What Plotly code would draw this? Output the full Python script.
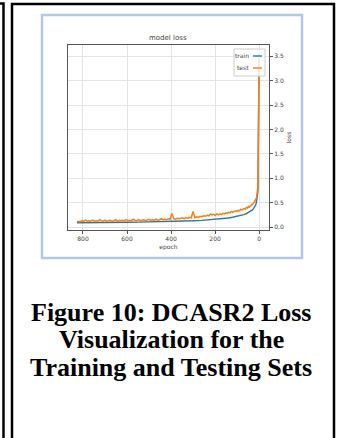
import plotly.graph_objects as go

# ---- data ----
train_epochs = [0, 1, 2, 3, 4, 5, 6, 8, 10, 13, 16, 20, 25, 30, 40, 50, 60, 70, 85, 100,
                120, 140, 160, 180, 200, 230, 260, 300, 350, 400, 450, 500, 550, 600, 650,
                700, 750, 800, 827]
train_loss = [3.55, 2.35, 1.62, 1.20, 0.95, 0.80, 0.70, 0.60, 0.54, 0.49, 0.45, 0.41, 0.38,
              0.35, 0.32, 0.29, 0.27, 0.255, 0.235, 0.22, 0.20, 0.185, 0.175, 0.165, 0.155,
              0.145, 0.137, 0.128, 0.12, 0.113, 0.108, 0.104, 0.10, 0.097, 0.094, 0.092,
              0.09, 0.088, 0.087]

test_epochs = [0, 1, 2, 3, 4, 5, 6, 7, 8, 10,
               12, 14, 16, 19, 22, 25, 28, 32, 36, 40,
               44, 48, 53, 58, 63, 68, 73, 78, 84, 90,
               96, 102, 108, 114, 120, 126, 132, 138, 144, 150,
               157, 164, 171, 178, 185, 192, 199, 206, 213, 220,
               228, 236, 244, 252, 260, 268, 276, 284, 292, 300,
               308, 316, 324, 332, 340, 348, 356, 364, 372, 380,
               388, 396, 404, 412, 420, 428, 436, 444, 452, 460,
               468, 476, 484, 492, 500, 508, 516, 524, 532, 540,
               548, 556, 564, 572, 580, 588, 596, 604, 612, 620,
               628, 636, 644, 652, 660, 668, 676, 684, 692, 700,
               708, 716, 724, 732, 740, 748, 756, 764, 772, 780,
               788, 796, 804, 812, 820, 827]
test_loss = [3.52, 2.45, 1.75, 1.30, 1.05, 0.90, 0.80, 0.74, 0.69, 0.63,
             0.60, 0.58, 0.55, 0.53, 0.51, 0.49, 0.47, 0.46, 0.44, 0.43,
             0.41, 0.42, 0.39, 0.40, 0.37, 0.38, 0.36, 0.35, 0.36, 0.33,
             0.34, 0.32, 0.33, 0.31, 0.30, 0.32, 0.29, 0.30, 0.28, 0.29,
             0.27, 0.28, 0.26, 0.27, 0.25, 0.27, 0.24, 0.26, 0.25, 0.27,
             0.23, 0.24, 0.22, 0.23, 0.21, 0.22, 0.20, 0.21, 0.19, 0.32,
             0.19, 0.20, 0.18, 0.19, 0.17, 0.19, 0.18, 0.17, 0.18, 0.16,
             0.17, 0.28, 0.16, 0.17, 0.15, 0.16, 0.15, 0.17, 0.15, 0.14,
             0.16, 0.14, 0.15, 0.14, 0.16, 0.14, 0.13, 0.15, 0.14, 0.13,
             0.15, 0.13, 0.14, 0.16, 0.13, 0.14, 0.13, 0.15, 0.13, 0.14,
             0.13, 0.14, 0.12, 0.15, 0.13, 0.12, 0.14, 0.13, 0.12, 0.14,
             0.12, 0.13, 0.15, 0.12, 0.13, 0.12, 0.14, 0.12, 0.13, 0.12,
             0.14, 0.12, 0.13, 0.11, 0.12, 0.11]

x_ticks = [0, 200, 400, 600, 800]
y_ticks = [0.0, 0.5, 1.0, 1.5, 2.0, 2.5, 3.0, 3.5]
series_names = ["train", "test"]
series_colors = ["#1f77b4", "#ff7f0e"]
caption_lines = ["Figure 10: DCASR2 Loss", "Visualization for the", "Training and Testing Sets"]

W, H = 339, 438
L, R, T, B = 68, 269, 45, 230  # plot area in pixels


def px(x):
    return (x - L) / (R - L)


def py(y):
    return (B - y) / (B - T)


fig = go.Figure()
fig.add_trace(go.Scatter(x=train_epochs, y=train_loss, mode="lines", name=series_names[0],
                         line=dict(color=series_colors[0], width=1.4), showlegend=False))
fig.add_trace(go.Scatter(x=test_epochs, y=test_loss, mode="lines", name=series_names[1],
                         line=dict(color=series_colors[1], width=1.5), showlegend=False))

small_font = dict(size=6, color="#444444", family="DejaVu Sans")
axis_common = dict(showgrid=True, gridcolor="#e4e4e4", gridwidth=1, showline=True,
                   linecolor="#555555", linewidth=1, mirror=True, ticks="outside",
                   ticklen=3, tickcolor="#555555", zeroline=False, tickfont=small_font)

fig.update_layout(
    width=W, height=H,
    margin=dict(l=L, r=W - R, t=T, b=H - B),
    paper_bgcolor="white", plot_bgcolor="white",
    showlegend=False,
    xaxis=dict(range=[868, -45], tickvals=x_ticks,
               title=dict(text="epoch", font=small_font, standoff=3),
               **axis_common),
    yaxis=dict(range=[-0.061, 3.73], tickvals=y_ticks, tickformat=".1f", side="right",
               title=dict(text="loss", font=small_font, standoff=3),
               **axis_common),
)

# title of the chart image
fig.add_annotation(text="model loss", xref="paper", yref="paper", x=px(168), y=py(38),
                   xanchor="center", yanchor="middle", showarrow=False,
                   font=dict(size=7, color="#444444", family="DejaVu Sans"))

# legend box (text left, line sample right, as in the picture)
fig.add_shape(type="rect", xref="paper", yref="paper", x0=px(234), x1=px(265),
              y0=py(76), y1=py(49), line=dict(color="#cccccc", width=1),
              fillcolor="rgba(255,255,255,0.85)", layer="above")
for i, (name, color) in enumerate(zip(series_names, series_colors)):
    yy = 56 + 12 * i
    fig.add_annotation(text=name, xref="paper", yref="paper", x=px(251), y=py(yy),
                       xanchor="right", yanchor="middle", showarrow=False, font=small_font)
    fig.add_shape(type="line", xref="paper", yref="paper", x0=px(253), x1=px(262),
                  y0=py(yy), y1=py(yy), line=dict(color=color, width=1.4), layer="above")

# caption
for i, line in enumerate(caption_lines):
    fig.add_annotation(text="<b>%s</b>" % line, xref="paper", yref="paper",
                       x=px(171), y=py(312 + 27.5 * i), xanchor="center", yanchor="middle",
                       showarrow=False,
                       font=dict(size=26, color="black", family="Liberation Serif"))

# light blue frame around chart image
fig.add_shape(type="rect", xref="paper", yref="paper", x0=px(42), x1=px(302),
              y0=py(258), y1=py(15), line=dict(color="#b4c7e7", width=2.5), layer="below")

# black table borders
fig.add_shape(type="path", xref="paper", yref="paper",
              path="M %f,%f L %f,%f L %f,%f" % (px(0), py(3.5), px(3.5), py(3.5), px(3.5), py(440)),
              line=dict(color="black", width=2.5))
fig.add_shape(type="path", xref="paper", yref="paper",
              path="M %f,%f L %f,%f L %f,%f L %f,%f" % (px(12), py(440), px(12), py(4),
                                                        px(334), py(4), px(334), py(440)),
              line=dict(color="black", width=2.5))

fig.write_html("out.html")
